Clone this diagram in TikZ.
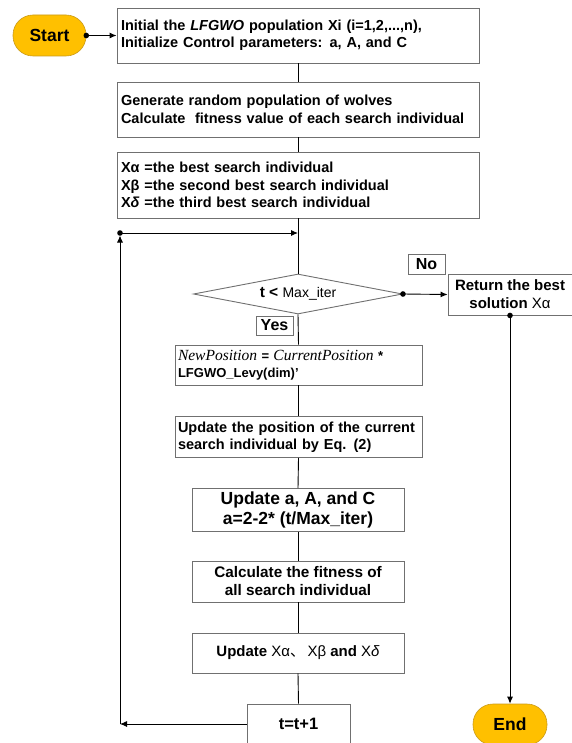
\documentclass[tikz,border=0pt]{standalone}
\usepackage{fontspec}
\setmainfont{Liberation Sans}
\newfontfamily\serifit{Liberation Serif}
\newfontfamily\cjk{Noto Sans CJK SC}
\usetikzlibrary{shapes.geometric,arrows.meta}
\definecolor{pillfill}{HTML}{FFC000}
\definecolor{pillline}{HTML}{C99A1A}
\definecolor{boxline}{HTML}{707070}
\tikzset{
  box/.style={draw=boxline, line width=0.9pt, fill=white, inner ysep=0pt,
    font=\bfseries\fontsize{14.5}{17.5}\selectfont},
  leftbox/.style={box, inner xsep=4pt, align=left},
  centerbox/.style={box, inner xsep=2pt, align=center},
  pill/.style={draw=pillline, line width=0.6pt, fill=pillfill, rounded corners=20pt,
    inner sep=0pt, font=\bfseries\fontsize{17.5}{19}\selectfont},
  tag/.style={draw=boxline, line width=0.9pt, fill=white, inner sep=0pt,
    font=\bfseries\fontsize{16}{18}\selectfont},
  conn/.style={line width=0.9pt, black},
  arr/.style={conn, -{Latex[length=7pt,width=6pt]}},
  dot/.style={black}
}
\begin{document}
\begin{tikzpicture}[x=1pt,y=-1pt]
\useasboundingbox (0,0) rectangle (571,743);

% nodes
\node[pill, minimum width=73pt, minimum height=41pt] (start) at (49.5,35.5) {Start};
\node[leftbox, minimum width=362pt, minimum height=55pt, text width=354pt] (b1) at (298,35.5)
  {Initial the \textit{LFGWO} population Xi (i=1,2,...,n),\\Initialize Control parameters: a, A, and C};
\node[leftbox, minimum width=362pt, minimum height=55pt, text width=354pt] (b2) at (298,109.5)
  {Generate random population of wolves\\Calculate\ \ fitness value of each search individual};
\node[leftbox, minimum width=362pt, minimum height=66pt, text width=354pt] (b3) at (298,185)
  {Xα =the best search individual\\Xβ =the second best search individual\\X{\itshape δ} =the third best search individual};
\node[diamond, draw=boxline, line width=0.9pt, fill=white, inner sep=0pt, aspect=5.2,
  minimum width=209pt, minimum height=40pt, font=\bfseries\fontsize{15.5}{17}\selectfont] (cond) at (298,294)
  {t < {\mdseries\fontsize{14}{16}\selectfont Max\_iter}};
\node[tag, minimum width=37pt, minimum height=20pt] (no) at (426.5,264) {No};
\node[tag, minimum width=37pt, minimum height=19pt] (yes) at (274.5,325.5) {Yes};
\node[centerbox, minimum width=124pt, minimum height=41pt, font=\bfseries\fontsize{15}{18}\selectfont] (ret) at (510,294.5)
  {Return the best\\solution {\mdseries Xα}};
\node[leftbox, inner xsep=3pt, minimum width=247pt, minimum height=40pt, text width=241pt,
  font=\bfseries\fontsize{13}{16.5}\selectfont] (b4) at (298.5,365)
  {{\mdseries\serifit\itshape\fontsize{15.5}{16.5}\selectfont NewPosition} = {\mdseries\serifit\itshape\fontsize{15.5}{16.5}\selectfont CurrentPosition} *\\LFGWO\_Levy(dim)'};
\node[leftbox, inner xsep=3pt, minimum width=247pt, minimum height=41pt, text width=241pt] (b5) at (298.5,437)
  {Update the position of the current\\search individual by Eq. (2)};
\node[centerbox, minimum width=212pt, minimum height=43pt, font=\bfseries\fontsize{17.5}{19.5}\selectfont] (b6) at (298,510)
  {Update a, A, and C\\a=2-2* (t/Max\_iter)};
\node[centerbox, minimum width=212pt, minimum height=41pt, font=\bfseries\fontsize{15.3}{18}\selectfont] (b7) at (298,581.5)
  {Calculate the fitness of\\all search individual};
\node[centerbox, minimum width=212pt, minimum height=40pt, font=\bfseries\fontsize{15}{18}\selectfont] (b8) at (298,653)
  {Update {\mdseries Xα{\cjk 、}\,Xβ} and {\mdseries X{\itshape δ}}};
\node[centerbox, minimum width=103pt, minimum height=40pt, font=\bfseries\fontsize{16.5}{18}\selectfont] (b9) at (298.5,724) {t=t+1};
\node[pill, minimum width=74pt, minimum height=41pt] (end) at (510,724.5) {End};

\coordinate (lb) at (120,724);
\coordinate (lt) at (120,233);
\coordinate (lm) at (298,233);

% connectors
\draw[arr] (start.east) -- (b1.west);
\draw[conn] (b1.south) -- (b2.north);
\draw[conn] (b2.south) -- (b3.north);
\draw[conn] (b3.south) -- (cond.north);
\draw[arr] (cond.east) -- (ret.west);
\draw[arr] (ret.south) -- (end.north);
\draw[conn] (cond.south) -- (b4.north);
\draw[conn] (b4.south) -- (b5.north);
\draw[conn] (b5.south) -- (b6.north);
\draw[conn] (b6.south) -- (b7.north);
\draw[conn] (b7.south) -- (b8.north);
\draw[conn] (b8.south) -- (b9.north);
\draw[arr] (b9.west) -- (lb);
\draw[arr, shorten >=2.5pt] (lb) -- (lt);
\draw[arr] (lt) -- (lm);

% dots
\fill[dot] (start.east) circle (2.8pt);
\fill[dot] (cond.east) circle (2.8pt);
\fill[dot] (ret.south) circle (2.8pt);
\fill[dot] (lt) circle (2.8pt);
\end{tikzpicture}
\end{document}
